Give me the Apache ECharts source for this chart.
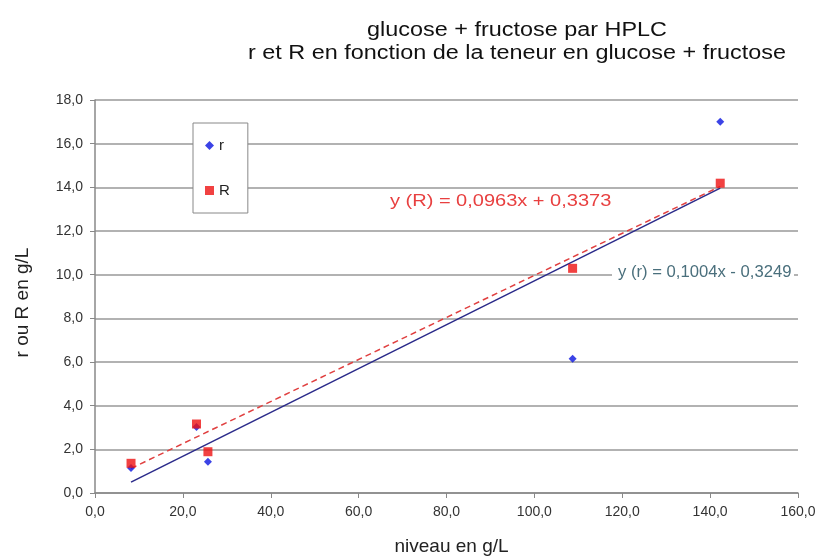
<!DOCTYPE html>
<html><head><meta charset="utf-8">
<script src="https://cdn.jsdelivr.net/npm/echarts@6/dist/echarts.min.js"></script>
<style>html,body{margin:0;padding:0;background:#fff}#c{width:832px;height:558px}</style>
</head><body><div id="c"></div>
<script>
const xNiveau = [8.2, 23.1, 25.7, 108.7, 142.3];
const rValues = [1.15, 3.02, 1.43, 6.15, 17.0];
const RValues = [1.36, 3.16, 1.89, 10.29, 14.19];
const slopeR = 0.0963, interceptR = 0.3373;
const slopeRr = 0.1004, interceptRr = -0.3249;
const eqR = 'y (R) = 0,0963x + 0,3373';
const eqr = 'y (r) = 0,1004x - 0,3249';
const titleLines = ['glucose + fructose par HPLC', 'r et R en fonction de la teneur en glucose + fructose'];

const xmin = Math.min(...xNiveau), xmax = Math.max(...xNiveau);
const fmt = v => v.toFixed(1).replace('.', ',');
const FONT = '"Liberation Sans", Arial, sans-serif';

const chart = echarts.init(document.getElementById('c'), null, {renderer: 'canvas'});
chart.setOption({
  animation: false,
  backgroundColor: '#fff',
  textStyle: {fontFamily: FONT},
  grid: {left: 95, right: 34, top: 100, bottom: 65, containLabel: false, outerBoundsMode: 'none'},
  legend: {
    orient: 'vertical', left: 193, top: 123,
    data: [{name: 'r', icon: 'diamond'}, {name: 'R', icon: 'rect'}],
    itemWidth: 9, itemHeight: 9, itemGap: 30,
    padding: [15, 18, 15, 12],
    backgroundColor: '#fff', borderColor: '#888', borderWidth: 1,
    textStyle: {fontSize: 15, color: '#222', fontFamily: FONT}
  },
  xAxis: {
    type: 'value', min: 0, max: 160, interval: 20,
    name: 'niveau en g/L', nameLocation: 'middle', nameGap: 44,
    nameTextStyle: {fontSize: 19, color: '#222', fontFamily: FONT, padding: [0, 0, 0, 10]},
    axisLine: {show: true, onZero: false, lineStyle: {color: '#888', width: 1.5}},
    axisTick: {show: true, inside: false, length: 5, lineStyle: {color: '#888'}},
    axisLabel: {formatter: fmt, fontSize: 14, color: '#333', margin: 12, fontFamily: FONT},
    splitLine: {show: false}
  },
  yAxis: {
    type: 'value', min: 0, max: 18, interval: 2,
    name: 'r ou R en g/L', nameLocation: 'middle', nameGap: 63, nameRotate: 90,
    nameTextStyle: {fontSize: 19, color: '#222', fontFamily: FONT, padding: [0, 12, 0, 0]},
    axisLine: {show: true, lineStyle: {color: '#888', width: 1.5}},
    axisTick: {show: true, inside: false, length: 5, lineStyle: {color: '#888'}},
    axisLabel: {formatter: fmt, fontSize: 14, color: '#333', margin: 12, fontFamily: FONT},
    splitLine: {show: true, lineStyle: {color: '#999', width: 1.5}}
  },
  series: [
    {
      name: 'r', type: 'scatter', symbol: 'diamond', symbolSize: 8,
      itemStyle: {color: '#0a14e0'}, z: 4,
      data: xNiveau.map((x, i) => [x, rValues[i]])
    },
    {
      name: 'R', type: 'scatter', symbol: 'rect', symbolSize: 9,
      itemStyle: {color: '#ee1111'}, z: 5,
      data: xNiveau.map((x, i) => [x, RValues[i]])
    },
    {
      name: 'trend r', type: 'line', showSymbol: false, symbol: 'none', z: 3,
      lineStyle: {color: '#2a2a8a', width: 1.5, type: 'solid'},
      data: [[xmin, slopeRr * xmin + interceptRr], [xmax, slopeRr * xmax + interceptRr]]
    },
    {
      name: 'trend R', type: 'line', showSymbol: false, symbol: 'none', z: 3,
      lineStyle: {color: '#e04040', width: 1.5, type: [6, 4]},
      data: [[xmin, slopeR * xmin + interceptR], [xmax, slopeR * xmax + interceptR]]
    }
  ],
  graphic: [
    {type: 'text', x: 517, y: 30, scaleX: 1.17, z: 10,
     style: {text: titleLines[0], fill: '#111', align: 'center', verticalAlign: 'middle', font: '20px "Liberation Sans", Arial, sans-serif'}},
    {type: 'text', x: 517, y: 53, scaleX: 1.17, z: 10,
     style: {text: titleLines[1], fill: '#111', align: 'center', verticalAlign: 'middle', font: '20px "Liberation Sans", Arial, sans-serif'}},
    {type: 'text', x: 390, y: 202, scaleX: 1.25, z: 10,
     style: {text: eqR, fill: '#e84040', align: 'left', verticalAlign: 'middle', font: '16px "Liberation Sans", Arial, sans-serif'}},
    {type: 'rect', shape: {x: 612, y: 263, width: 182, height: 20}, style: {fill: '#fff'}, z: 9},
    {type: 'text', x: 618, y: 273, scaleX: 1.04, z: 10,
     style: {text: eqr, fill: '#4a6f7c', align: 'left', verticalAlign: 'middle', font: '16px "Liberation Sans", Arial, sans-serif'}}
  ]
});
</script></body></html>
